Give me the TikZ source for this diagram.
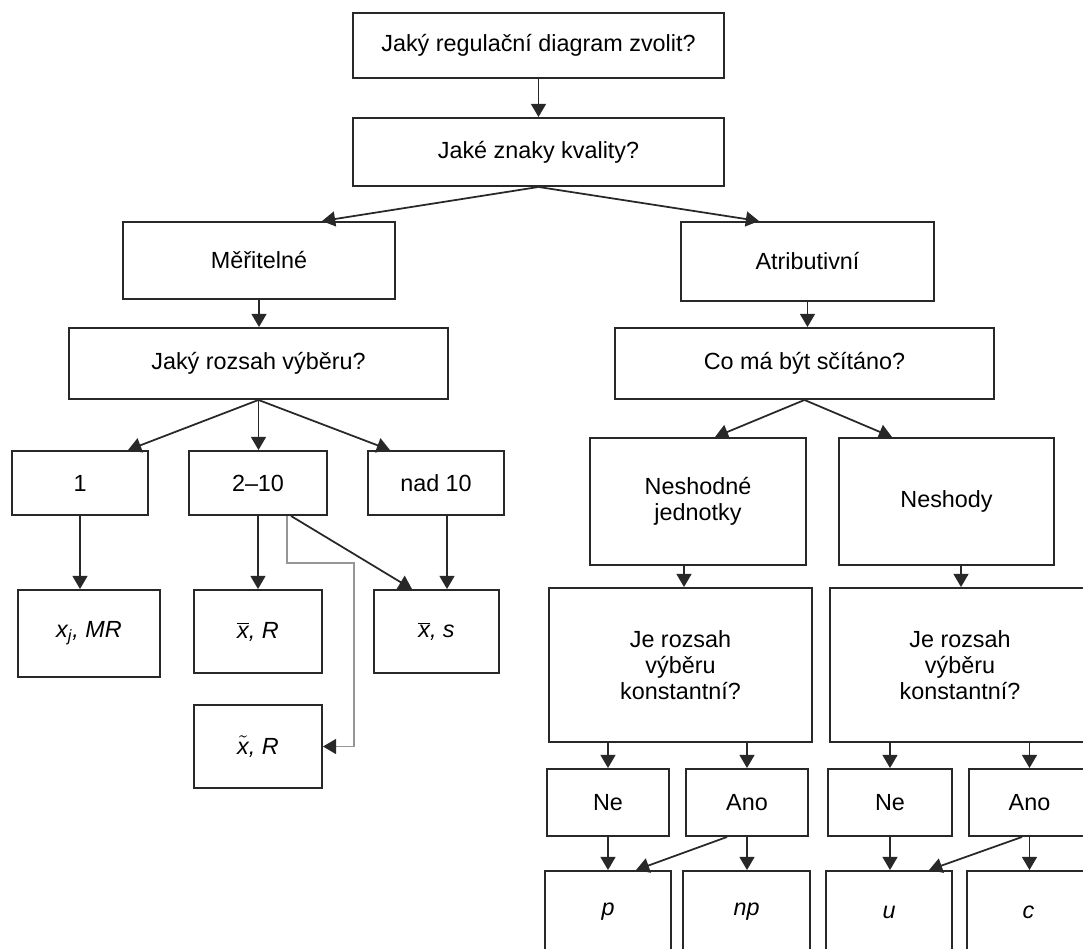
\documentclass[tikz,border=0pt]{standalone}
\usepackage{fontspec}
\setmainfont{Liberation Sans}
\usetikzlibrary{arrows.meta}
\definecolor{LineGray}{RGB}{40,40,40}
\definecolor{ElbowGray}{RGB}{150,150,150}
\tikzset{
  box/.style={draw=LineGray,line width=1.1pt,inner sep=2pt,align=center,
    font=\fontsize{13.3}{15}\selectfont},
  arr/.style={draw=LineGray,line width=1pt,-{Triangle[width=8.5pt,length=7.5pt]}},
}
\tikzset{elbow/.style={draw=ElbowGray,line width=1pt,-{Triangle[width=8.5pt,length=7.5pt,color=LineGray]}}}
\newcommand{\xbar}{$\overline{\mbox{\itshape x}}$}
\newcommand{\xtil}{$\tilde{\mbox{\itshape x}}$}

\begin{document}
\begin{tikzpicture}[x=0.02cm,y=-0.02cm]
\useasboundingbox (0,0) rectangle (1083,948);
\clip (0,0) rectangle (1083,948);
% top
\node[box,minimum width=7.42cm,minimum height=1.30cm] (t1) at (538.5,45.5) {Jaký regulační diagram zvolit?};
\node[box,minimum width=7.42cm,minimum height=1.36cm] (t2) at (538.5,152) {Jaké znaky kvality?};
\node[box,minimum width=5.44cm,minimum height=1.54cm] (m) at (259,260.5) {Měřitelné};
\node[box,minimum width=5.06cm,minimum height=1.58cm] (a) at (807.5,261.5) {Atributivní};
\node[box,minimum width=7.58cm,minimum height=1.42cm] (jr) at (258.5,363.5) {Jaký rozsah výběru?};
\node[box,minimum width=7.58cm,minimum height=1.42cm] (cm) at (804.5,363.5) {Co má být sčítáno?};
% left branch
\node[box,minimum width=2.72cm,minimum height=1.28cm] (n1) at (80,483) {1};
\node[box,minimum width=2.76cm,minimum height=1.28cm] (n2) at (258,483) {2--10};
\node[box,minimum width=2.72cm,minimum height=1.28cm] (n3) at (436,483) {nad 10};
\node[box,minimum width=2.84cm,minimum height=1.74cm] (r1) at (89,633.5) {\textit{x\textsubscript{j}, MR}};
\node[box,minimum width=2.56cm,minimum height=1.66cm] (r2) at (258,631.5) {\xbar\textit{, R}};
\node[box,minimum width=2.50cm,minimum height=1.66cm] (r3) at (436.5,631.5) {\xbar\textit{, s}};
\node[box,minimum width=2.56cm,minimum height=1.66cm] (r4) at (258,746.5) {\xtil\textit{, R}};
% right branch
\node[box,minimum width=4.32cm,minimum height=2.54cm] (nj) at (698,501.5) {Neshodné\\jednotky};
\node[box,minimum width=4.30cm,minimum height=2.54cm] (ns) at (946.5,501.5) {Neshody};
\node[box,minimum width=5.26cm,minimum height=3.08cm] (k1) at (680.5,665) {Je rozsah\\výběru\\konstantní?};
\node[box,minimum width=5.20cm,minimum height=3.08cm] (k2) at (960,665) {Je rozsah\\výběru\\konstantní?};
\node[box,minimum width=2.44cm,minimum height=1.34cm] (ne1) at (608,802.5) {Ne};
\node[box,minimum width=2.44cm,minimum height=1.34cm] (ano1) at (747,802.5) {Ano};
\node[box,minimum width=2.48cm,minimum height=1.34cm] (ne2) at (890,802.5) {Ne};
\node[box,minimum width=2.42cm,minimum height=1.34cm] (ano2) at (1029.5,802.5) {Ano};
\node[box,minimum width=2.52cm,minimum height=1.64cm] (p) at (608,912) {\textit{p}};
\node[box,minimum width=2.54cm,minimum height=1.64cm] (np) at (746.5,912) {\textit{np}};
\node[box,minimum width=2.52cm,minimum height=1.64cm] (u) at (889,912) {\textit{u}};
\node[box,minimum width=2.46cm,minimum height=1.64cm] (c) at (1028.5,912) {\textit{c}};
% arrows
\draw[arr] (t1) -- (t2);
\draw[arr] (t2.south) -- ([xshift=1.26cm]m.north);
\draw[arr] (t2.south) -- ([xshift=-0.97cm]a.north);
\draw[arr] (m.south) -- (m.south |- jr.north);
\draw[arr] (a.south) -- (a.south |- cm.north);
\draw[arr] (jr.south) -- ([xshift=0.96cm]n1.north);
\draw[arr] (jr.south) -- (jr.south |- n2.north);
\draw[arr] (jr.south) -- ([xshift=-0.92cm]n3.north);
\draw[arr] (n1.south) -- (n1.south |- r1.north);
\draw[arr] (n2.south) -- (n2.south |- r2.north);
\draw[arr] ([xshift=0.22cm]n3.south) -- ([xshift=0.21cm]r3.north);
\draw[arr] ([xshift=0.66cm]n2.south) -- ([xshift=-0.49cm]r3.north);
\draw[elbow] ([xshift=0.58cm]n2.south) -- ++(0,47) -| ([xshift=0.62cm]r4.east) -- (r4.east);
\draw[arr] (cm.south) -- ([xshift=0.34cm]nj.north);
\draw[arr] (cm.south) -- ([xshift=-1.09cm]ns.north);
\draw[arr] ([xshift=-0.28cm]nj.south) -- ([xshift=0.07cm]k1.north);
\draw[arr] ([xshift=0.29cm]ns.south) -- ([xshift=0.02cm]k2.north);
\draw[arr] (ne1 |- k1.south) -- (ne1.north);
\draw[arr] (ano1 |- k1.south) -- (ano1.north);
\draw[arr] (ne2 |- k2.south) -- (ne2.north);
\draw[arr] (ano2 |- k2.south) -- (ano2.north);
\draw[arr] (ne1.south) -- (ne1.south |- p.north);
\draw[arr] (ano1.south) -- (ano1.south |- np.north);
\draw[arr] (ne2.south) -- (ne2.south |- u.north);
\draw[arr] (ano2.south) -- (ano2.south |- c.north);
\draw[arr] ([xshift=-0.40cm]ano1.south) -- ([xshift=0.56cm]p.north);
\draw[arr] ([xshift=-0.15cm]ano2.south) -- ([xshift=0.80cm]u.north);
\end{tikzpicture}
\end{document}
